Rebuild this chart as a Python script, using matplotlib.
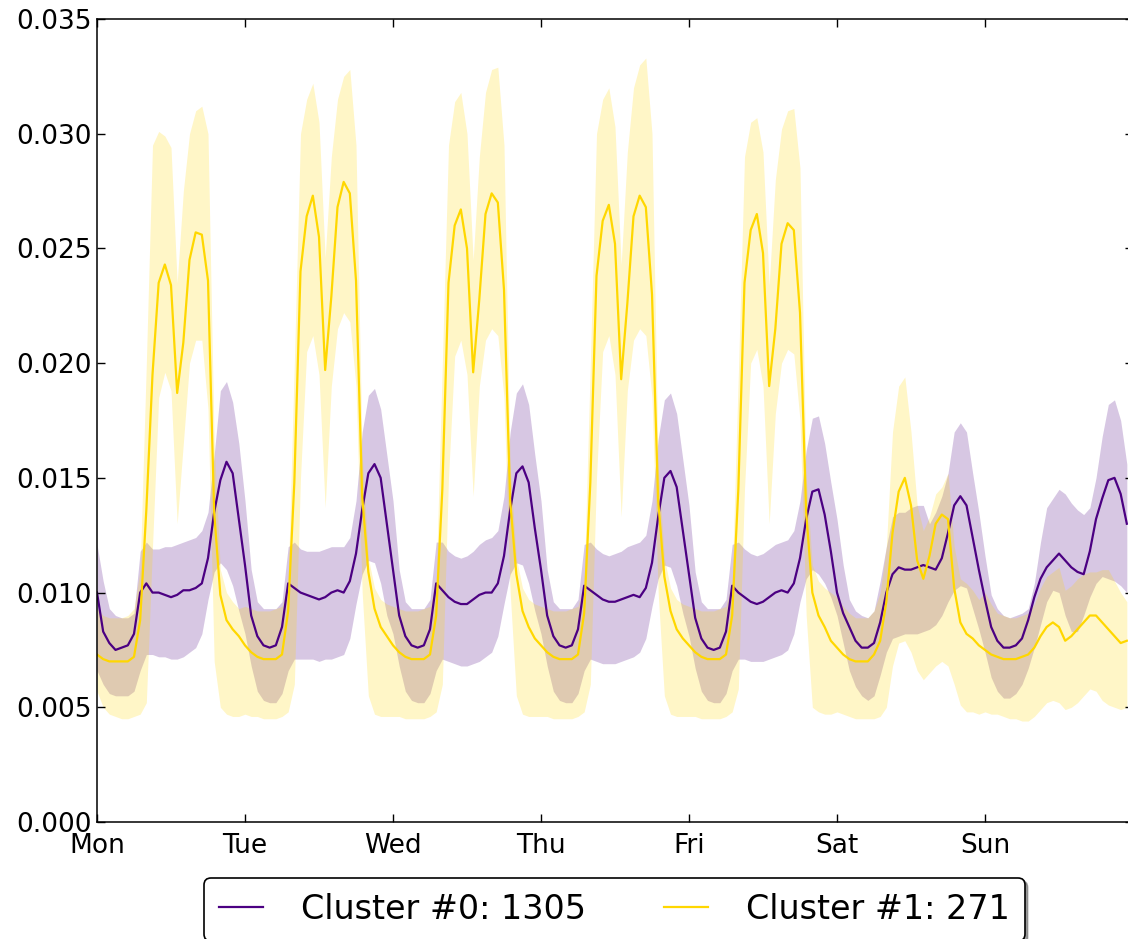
import numpy as np
import matplotlib
matplotlib.use("Agg")
import matplotlib.pyplot as plt

# hourly profile over one week, Mon 00:00 .. Sun 23:00 (one row per day)
day_labels = ["Mon", "Tue", "Wed", "Thu", "Fri", "Sat", "Sun"]
legend_labels = ["Cluster #0: 1305", "Cluster #1: 271"]

cluster0_mean = [
    0.0100, 0.0083, 0.0078, 0.0075, 0.0076, 0.0077, 0.0082, 0.0100, 0.0104, 0.0100, 0.0100, 0.0099, 0.0098, 0.0099, 0.0101, 0.0101, 0.0102, 0.0104, 0.0115, 0.0135, 0.0149, 0.0157, 0.0152, 0.0132,
    0.0112, 0.0090, 0.0081, 0.0077, 0.0076, 0.0077, 0.0085, 0.0104, 0.0102, 0.0100, 0.0099, 0.0098, 0.0097, 0.0098, 0.0100, 0.0101, 0.0100, 0.0105, 0.0117, 0.0136, 0.0152, 0.0156, 0.0150, 0.0130,
    0.0110, 0.0090, 0.0081, 0.0077, 0.0076, 0.0077, 0.0084, 0.0104, 0.0101, 0.0098, 0.0096, 0.0095, 0.0095, 0.0097, 0.0099, 0.0100, 0.0100, 0.0104, 0.0116, 0.0136, 0.0152, 0.0155, 0.0148, 0.0128,
    0.0110, 0.0090, 0.0081, 0.0077, 0.0076, 0.0077, 0.0084, 0.0103, 0.0101, 0.0099, 0.0097, 0.0096, 0.0096, 0.0097, 0.0098, 0.0099, 0.0098, 0.0102, 0.0113, 0.0133, 0.0150, 0.0153, 0.0146, 0.0127,
    0.0108, 0.0089, 0.0080, 0.0076, 0.0075, 0.0076, 0.0083, 0.0103, 0.0100, 0.0098, 0.0096, 0.0095, 0.0096, 0.0098, 0.0100, 0.0101, 0.0100, 0.0104, 0.0115, 0.0132, 0.0144, 0.0145, 0.0134, 0.0118,
    0.0100, 0.0091, 0.0085, 0.0079, 0.0076, 0.0076, 0.0078, 0.0087, 0.0100, 0.0108, 0.0111, 0.0110, 0.0110, 0.0111, 0.0112, 0.0111, 0.0110, 0.0115, 0.0126, 0.0138, 0.0142, 0.0138, 0.0124, 0.0110,
    0.0097, 0.0085, 0.0079, 0.0076, 0.0076, 0.0077, 0.0080, 0.0088, 0.0098, 0.0106, 0.0111, 0.0114, 0.0117, 0.0114, 0.0111, 0.0109, 0.0108, 0.0118, 0.0132, 0.0141, 0.0149, 0.0150, 0.0143, 0.0130,
]
cluster0_low = [
    0.0066, 0.0060, 0.0056, 0.0055, 0.0055, 0.0055, 0.0057, 0.0066, 0.0073, 0.0073, 0.0072, 0.0072, 0.0071, 0.0071, 0.0072, 0.0074, 0.0076, 0.0082, 0.0097, 0.0109, 0.0113, 0.0110, 0.0103, 0.0092,
    0.0082, 0.0068, 0.0057, 0.0053, 0.0052, 0.0052, 0.0056, 0.0066, 0.0071, 0.0071, 0.0071, 0.0071, 0.0070, 0.0071, 0.0071, 0.0072, 0.0073, 0.0080, 0.0095, 0.0108, 0.0114, 0.0113, 0.0104, 0.0090,
    0.0082, 0.0068, 0.0057, 0.0053, 0.0052, 0.0052, 0.0056, 0.0066, 0.0071, 0.0070, 0.0069, 0.0068, 0.0068, 0.0069, 0.0070, 0.0072, 0.0074, 0.0081, 0.0095, 0.0108, 0.0113, 0.0112, 0.0104, 0.0092,
    0.0082, 0.0068, 0.0057, 0.0053, 0.0052, 0.0052, 0.0056, 0.0066, 0.0071, 0.0070, 0.0069, 0.0069, 0.0069, 0.0070, 0.0071, 0.0072, 0.0074, 0.0080, 0.0094, 0.0106, 0.0112, 0.0111, 0.0103, 0.0091,
    0.0081, 0.0067, 0.0057, 0.0053, 0.0052, 0.0052, 0.0056, 0.0066, 0.0071, 0.0071, 0.0070, 0.0070, 0.0070, 0.0071, 0.0072, 0.0073, 0.0075, 0.0082, 0.0096, 0.0106, 0.0110, 0.0108, 0.0104, 0.0098,
    0.0090, 0.0078, 0.0066, 0.0059, 0.0055, 0.0053, 0.0055, 0.0064, 0.0074, 0.0080, 0.0081, 0.0082, 0.0082, 0.0082, 0.0083, 0.0084, 0.0086, 0.0090, 0.0096, 0.0101, 0.0103, 0.0102, 0.0093, 0.0084,
    0.0074, 0.0063, 0.0057, 0.0054, 0.0054, 0.0056, 0.0060, 0.0067, 0.0076, 0.0086, 0.0096, 0.0101, 0.0100, 0.0090, 0.0083, 0.0083, 0.0090, 0.0098, 0.0104, 0.0107, 0.0106, 0.0105, 0.0103, 0.0100,
]
cluster0_high = [
    0.0121, 0.0105, 0.0093, 0.0090, 0.0089, 0.0089, 0.0091, 0.0118, 0.0122, 0.0119, 0.0119, 0.0120, 0.0120, 0.0121, 0.0122, 0.0123, 0.0124, 0.0127, 0.0135, 0.0160, 0.0188, 0.0192, 0.0183, 0.0165,
    0.0140, 0.0110, 0.0096, 0.0093, 0.0093, 0.0093, 0.0096, 0.0120, 0.0122, 0.0119, 0.0118, 0.0118, 0.0118, 0.0119, 0.0120, 0.0120, 0.0120, 0.0124, 0.0140, 0.0170, 0.0186, 0.0189, 0.0180, 0.0160,
    0.0140, 0.0110, 0.0096, 0.0093, 0.0093, 0.0093, 0.0097, 0.0122, 0.0122, 0.0118, 0.0116, 0.0115, 0.0116, 0.0118, 0.0121, 0.0123, 0.0124, 0.0127, 0.0142, 0.0170, 0.0187, 0.0191, 0.0182, 0.0160,
    0.0140, 0.0110, 0.0096, 0.0093, 0.0093, 0.0093, 0.0097, 0.0121, 0.0122, 0.0119, 0.0117, 0.0116, 0.0117, 0.0118, 0.0120, 0.0121, 0.0122, 0.0125, 0.0140, 0.0167, 0.0184, 0.0187, 0.0178, 0.0158,
    0.0138, 0.0109, 0.0096, 0.0093, 0.0093, 0.0093, 0.0097, 0.0121, 0.0122, 0.0119, 0.0117, 0.0116, 0.0117, 0.0119, 0.0121, 0.0122, 0.0123, 0.0127, 0.0140, 0.0162, 0.0176, 0.0177, 0.0165, 0.0148,
    0.0132, 0.0112, 0.0097, 0.0092, 0.0090, 0.0089, 0.0092, 0.0105, 0.0120, 0.0133, 0.0135, 0.0135, 0.0137, 0.0138, 0.0138, 0.0130, 0.0135, 0.0142, 0.0152, 0.0170, 0.0174, 0.0170, 0.0152, 0.0135,
    0.0116, 0.0099, 0.0093, 0.0090, 0.0089, 0.0090, 0.0091, 0.0093, 0.0104, 0.0122, 0.0137, 0.0141, 0.0145, 0.0143, 0.0139, 0.0136, 0.0134, 0.0137, 0.0150, 0.0168, 0.0182, 0.0184, 0.0175, 0.0156,
]

cluster1_mean = [
    0.0073, 0.0071, 0.0070, 0.0070, 0.0070, 0.0070, 0.0072, 0.0088, 0.0136, 0.0195, 0.0235, 0.0243, 0.0234, 0.0187, 0.0209, 0.0245, 0.0257, 0.0256, 0.0236, 0.0135, 0.0099, 0.0088, 0.0084, 0.0081,
    0.0077, 0.0074, 0.0072, 0.0071, 0.0071, 0.0071, 0.0073, 0.0092, 0.0148, 0.0240, 0.0264, 0.0273, 0.0255, 0.0197, 0.0229, 0.0268, 0.0279, 0.0274, 0.0236, 0.0142, 0.0109, 0.0093, 0.0085, 0.0081,
    0.0077, 0.0074, 0.0072, 0.0071, 0.0071, 0.0071, 0.0073, 0.0090, 0.0145, 0.0235, 0.0260, 0.0267, 0.0250, 0.0196, 0.0228, 0.0265, 0.0274, 0.0270, 0.0232, 0.0140, 0.0108, 0.0092, 0.0085, 0.0080,
    0.0077, 0.0074, 0.0072, 0.0071, 0.0071, 0.0071, 0.0073, 0.0091, 0.0148, 0.0238, 0.0262, 0.0269, 0.0252, 0.0193, 0.0226, 0.0264, 0.0273, 0.0268, 0.0230, 0.0140, 0.0107, 0.0092, 0.0084, 0.0080,
    0.0077, 0.0074, 0.0072, 0.0071, 0.0071, 0.0071, 0.0073, 0.0090, 0.0145, 0.0235, 0.0258, 0.0265, 0.0248, 0.0190, 0.0215, 0.0252, 0.0261, 0.0258, 0.0222, 0.0135, 0.0100, 0.0090, 0.0085, 0.0079,
    0.0076, 0.0073, 0.0071, 0.0070, 0.0070, 0.0070, 0.0073, 0.0079, 0.0096, 0.0126, 0.0144, 0.0150, 0.0138, 0.0114, 0.0106, 0.0116, 0.0130, 0.0134, 0.0132, 0.0102, 0.0087, 0.0082, 0.0080, 0.0077,
    0.0075, 0.0073, 0.0072, 0.0071, 0.0071, 0.0071, 0.0072, 0.0073, 0.0076, 0.0081, 0.0085, 0.0087, 0.0085, 0.0079, 0.0081, 0.0084, 0.0087, 0.0090, 0.0090, 0.0087, 0.0084, 0.0081, 0.0078, 0.0079,
]
cluster1_low = [
    0.0057, 0.0050, 0.0047, 0.0046, 0.0045, 0.0045, 0.0046, 0.0047, 0.0052, 0.0120, 0.0185, 0.0196, 0.0188, 0.0130, 0.0165, 0.0200, 0.0210, 0.0210, 0.0180, 0.0070, 0.0050, 0.0047, 0.0046, 0.0046,
    0.0047, 0.0046, 0.0046, 0.0045, 0.0045, 0.0045, 0.0046, 0.0048, 0.0060, 0.0150, 0.0205, 0.0212, 0.0195, 0.0137, 0.0190, 0.0215, 0.0222, 0.0218, 0.0190, 0.0100, 0.0055, 0.0047, 0.0046, 0.0046,
    0.0046, 0.0046, 0.0045, 0.0045, 0.0045, 0.0045, 0.0046, 0.0048, 0.0060, 0.0150, 0.0203, 0.0210, 0.0195, 0.0142, 0.0190, 0.0210, 0.0215, 0.0212, 0.0185, 0.0100, 0.0055, 0.0047, 0.0046, 0.0046,
    0.0046, 0.0046, 0.0045, 0.0045, 0.0045, 0.0045, 0.0046, 0.0048, 0.0060, 0.0150, 0.0205, 0.0212, 0.0195, 0.0133, 0.0188, 0.0210, 0.0215, 0.0212, 0.0185, 0.0100, 0.0055, 0.0047, 0.0046, 0.0046,
    0.0046, 0.0046, 0.0045, 0.0045, 0.0045, 0.0045, 0.0046, 0.0048, 0.0058, 0.0145, 0.0200, 0.0206, 0.0190, 0.0130, 0.0178, 0.0200, 0.0206, 0.0204, 0.0175, 0.0090, 0.0050, 0.0048, 0.0047, 0.0047,
    0.0048, 0.0047, 0.0046, 0.0045, 0.0045, 0.0045, 0.0045, 0.0046, 0.0050, 0.0068, 0.0078, 0.0079, 0.0074, 0.0066, 0.0062, 0.0065, 0.0068, 0.0070, 0.0068, 0.0060, 0.0051, 0.0048, 0.0048, 0.0047,
    0.0048, 0.0047, 0.0047, 0.0046, 0.0045, 0.0045, 0.0044, 0.0044, 0.0046, 0.0049, 0.0052, 0.0053, 0.0052, 0.0049, 0.0050, 0.0052, 0.0055, 0.0058, 0.0057, 0.0053, 0.0051, 0.0050, 0.0049, 0.0050,
]
cluster1_high = [
    0.0093, 0.0090, 0.0089, 0.0089, 0.0089, 0.0090, 0.0093, 0.0110, 0.0200, 0.0295, 0.0301, 0.0299, 0.0294, 0.0235, 0.0275, 0.0300, 0.0310, 0.0312, 0.0300, 0.0165, 0.0110, 0.0100, 0.0096, 0.0093,
    0.0094, 0.0093, 0.0092, 0.0092, 0.0092, 0.0093, 0.0094, 0.0105, 0.0200, 0.0300, 0.0315, 0.0322, 0.0305, 0.0246, 0.0290, 0.0315, 0.0325, 0.0328, 0.0295, 0.0160, 0.0115, 0.0102, 0.0097, 0.0095,
    0.0094, 0.0093, 0.0092, 0.0092, 0.0092, 0.0093, 0.0094, 0.0105, 0.0200, 0.0295, 0.0314, 0.0318, 0.0300, 0.0245, 0.0290, 0.0318, 0.0328, 0.0329, 0.0295, 0.0155, 0.0115, 0.0102, 0.0097, 0.0095,
    0.0094, 0.0093, 0.0092, 0.0092, 0.0092, 0.0093, 0.0094, 0.0105, 0.0200, 0.0300, 0.0315, 0.0320, 0.0303, 0.0243, 0.0292, 0.0320, 0.0330, 0.0333, 0.0300, 0.0155, 0.0115, 0.0102, 0.0097, 0.0095,
    0.0094, 0.0093, 0.0092, 0.0092, 0.0092, 0.0093, 0.0094, 0.0105, 0.0195, 0.0290, 0.0305, 0.0307, 0.0292, 0.0234, 0.0280, 0.0302, 0.0310, 0.0311, 0.0285, 0.0150, 0.0112, 0.0105, 0.0102, 0.0100,
    0.0098, 0.0094, 0.0091, 0.0089, 0.0089, 0.0089, 0.0092, 0.0100, 0.0120, 0.0170, 0.0190, 0.0194, 0.0170, 0.0138, 0.0127, 0.0133, 0.0143, 0.0146, 0.0152, 0.0120, 0.0106, 0.0104, 0.0101, 0.0097,
    0.0100, 0.0095, 0.0091, 0.0090, 0.0089, 0.0089, 0.0090, 0.0091, 0.0095, 0.0102, 0.0107, 0.0109, 0.0111, 0.0101, 0.0103, 0.0106, 0.0108, 0.0109, 0.0109, 0.0110, 0.0110, 0.0105, 0.0100, 0.0096,
]

colors = ["indigo", "gold"]
t = np.arange(len(cluster0_mean)) / 24.0   # time in days

fig = plt.figure(figsize=(11.28, 9.39), dpi=100)
ax = fig.add_axes([97 / 1128, 1 - 822 / 939, 1036 / 1128, 803 / 939])

clusters = [
    (cluster0_mean, cluster0_low, cluster0_high),
    (cluster1_mean, cluster1_low, cluster1_high),
]
for (mean, low, high), c in zip(clusters, colors):
    ax.fill_between(t, low, high, color=c, alpha=0.22, linewidth=0)
lines = []
for (mean, low, high), c, lab in zip(clusters, colors, legend_labels):
    ln, = ax.plot(t, mean, color=c, lw=1.6, label=lab)
    lines.append(ln)

ax.set_xlim(0, 7)
ax.set_ylim(0, 0.035)
ax.set_xticks(range(7))
ax.set_xticklabels(day_labels)
yt = np.arange(0, 0.0351, 0.005)
ax.set_yticks(yt)
ax.set_yticklabels(["%.3f" % v for v in yt])
ax.tick_params(direction="in", length=6, width=1, labelsize=19,
               top=True, right=True)
ax.tick_params(axis="x", pad=8)
ax.tick_params(axis="y", pad=4)
for s in ax.spines.values():
    s.set_linewidth(1.1)

leg = ax.legend(handles=lines, loc="upper center", ncol=2, fontsize=24,
                bbox_to_anchor=(614.5 / 1128, 1 - 878 / 939),
                bbox_transform=fig.transFigure, borderaxespad=0,
                shadow=True, fancybox=True, framealpha=1,
                handlelength=1.3, handletextpad=1.15, columnspacing=2.35,
                borderpad=0.45)
leg.get_frame().set_edgecolor("black")
leg.get_frame().set_linewidth(1.2)

fig.savefig("out.png", dpi=100, facecolor="white")
